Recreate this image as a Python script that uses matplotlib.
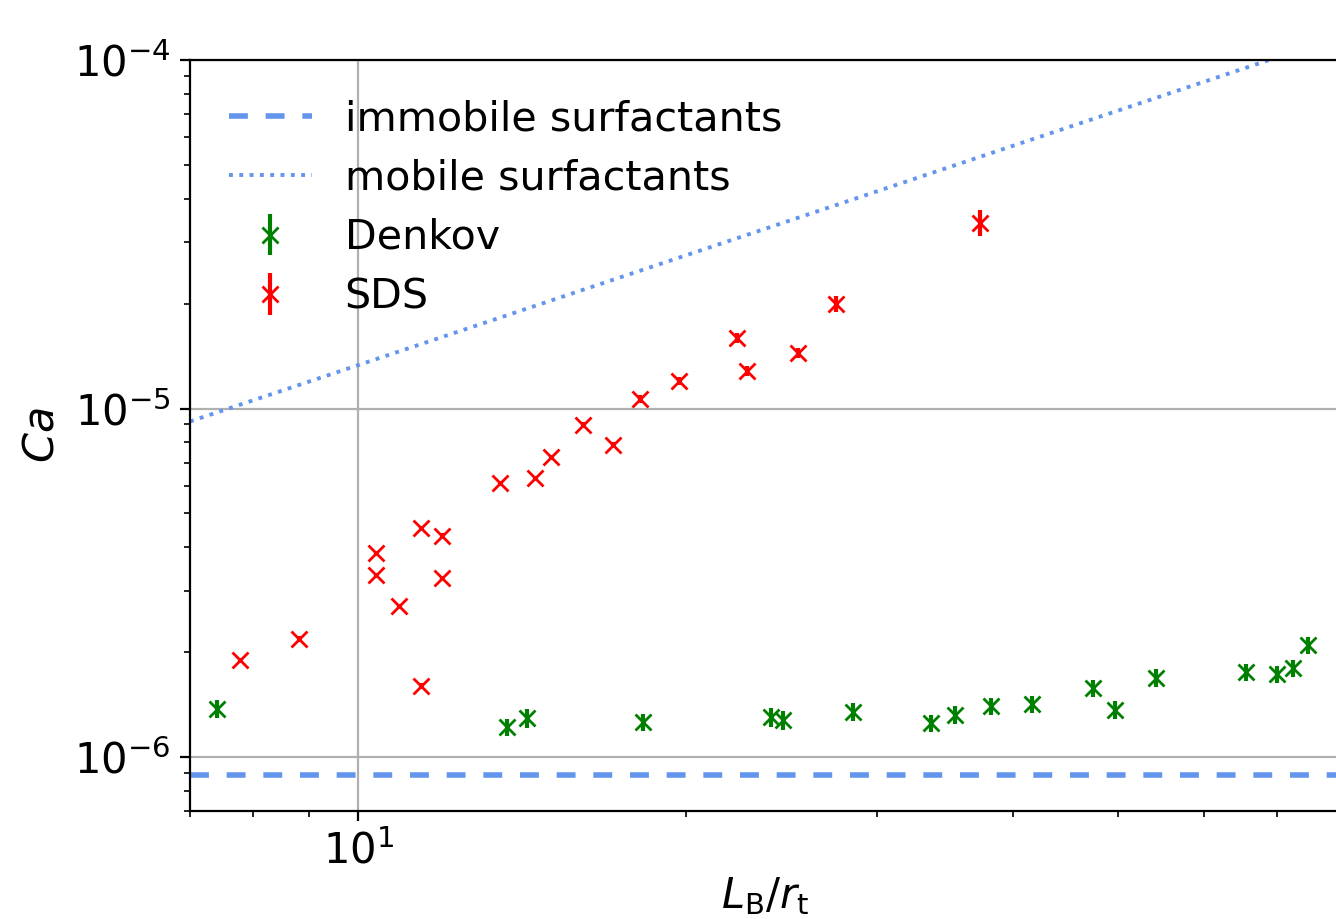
import numpy as np
import matplotlib
matplotlib.use('Agg')
import matplotlib.pyplot as plt
from matplotlib.ticker import NullFormatter

# Denkov data
denkov_x = [7.41, 13.69, 14.29, 18.27, 23.96, 24.58, 28.50, 33.62, 35.39, 38.19,
            41.66, 47.39, 49.66, 54.16, 65.55, 69.98, 72.39, 74.73]
denkov_y = [1.373e-6, 1.219e-6, 1.294e-6, 1.260e-6, 1.302e-6, 1.277e-6, 1.346e-6,
            1.252e-6, 1.320e-6, 1.401e-6, 1.420e-6, 1.578e-6, 1.364e-6, 1.685e-6,
            1.753e-6, 1.730e-6, 1.800e-6, 2.096e-6]
denkov_err = [0.08e-6, 0.07e-6, 0.08e-6, 0.07e-6, 0.08e-6, 0.08e-6, 0.08e-6,
              0.07e-6, 0.08e-6, 0.08e-6, 0.08e-6, 0.09e-6, 0.08e-6, 0.10e-6,
              0.10e-6, 0.10e-6, 0.10e-6, 0.12e-6]

# SDS data
sds_x = [7.78, 8.82, 10.38, 10.38, 10.90, 11.41, 11.41, 11.93, 11.93, 13.50,
         14.54, 15.03, 16.09, 17.15, 18.16, 19.71, 22.30, 22.78, 25.38, 27.50, 37.31]
sds_y = [1.90e-6, 2.18e-6, 3.85e-6, 3.33e-6, 2.71e-6, 4.54e-6, 1.60e-6, 4.31e-6,
         3.26e-6, 6.11e-6, 6.32e-6, 7.26e-6, 8.97e-6, 7.86e-6, 1.065e-5, 1.199e-5,
         1.594e-5, 1.281e-5, 1.443e-5, 1.995e-5, 3.41e-5]
sds_err = [0.03e-6, 0.04e-6, 0.06e-6, 0.05e-6, 0.04e-6, 0.07e-6, 0.03e-6, 0.07e-6,
           0.05e-6, 0.10e-6, 0.10e-6, 0.12e-6, 0.15e-6, 0.13e-6, 0.25e-6, 0.30e-6,
           0.50e-6, 0.40e-6, 0.50e-6, 1.05e-6, 2.9e-6]

# model lines
immobile_x = [7.0, 80.0]
immobile_y = [8.87e-7, 8.87e-7]
mobile_x = [7.0, 80.0]
mobile_y = [9.18e-6, 1.17e-4]

plt.rcParams['font.size'] = 15

fig = plt.figure(figsize=(6.68, 4.595), dpi=200)
ax = fig.add_axes([0.1422, 0.1175, 0.8608, 0.8172])

ax.plot(immobile_x, immobile_y, color='cornflowerblue', lw=2,
        linestyle=(0, (3.4, 3.2)), label='immobile surfactants')
ax.plot(mobile_x, mobile_y, color='cornflowerblue', lw=1.4, linestyle=':',
        label='mobile surfactants')
ax.errorbar(denkov_x, denkov_y, yerr=denkov_err, fmt='x', color='green',
            label='Denkov')
ax.errorbar(sds_x, sds_y, yerr=sds_err, fmt='x', color='red', label='SDS')

ax.set_xscale('log')
ax.set_yscale('log')
ax.set_xlim(7, 80)
ax.set_ylim(7.0e-7, 1e-4)
ax.xaxis.set_minor_formatter(NullFormatter())
ax.yaxis.set_minor_formatter(NullFormatter())
ax.grid(True)
ax.spines['right'].set_visible(False)

ax.set_xlabel(r'$L_\mathrm{B}/r_\mathrm{t}$', fontsize=15, labelpad=1)
ax.set_ylabel(r'$Ca$', fontsize=15.5)
ax.legend(loc='upper left', frameon=False, fontsize=14.85, labelspacing=0.47,
          borderaxespad=0.55)

fig.savefig('out.png', dpi=200)
